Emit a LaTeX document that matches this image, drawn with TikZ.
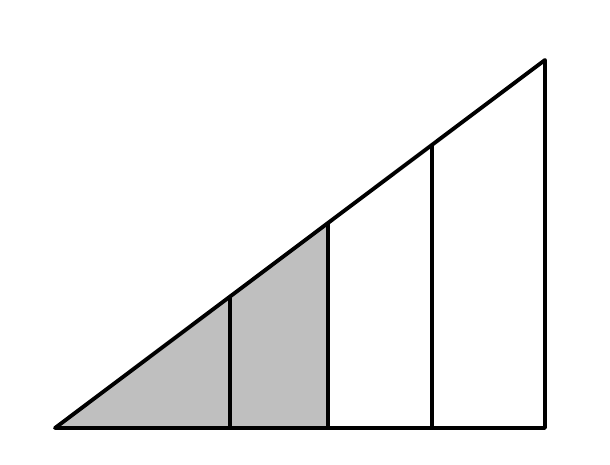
\documentclass[tikz,border=0pt]{standalone}
\usepackage{tikz}
\usetikzlibrary{calc}

\begin{document}
\begin{tikzpicture}[x=0.02cm, y=-0.02cm, line join=round, line cap=round]
\tikzset{edge/.style={draw, line width=2.2pt},shaded/.style={fill=black!25}}
\useasboundingbox (0,0) rectangle (610,465);
% corners of the triangle
\coordinate (A) at (55,428);
\coordinate (B) at (545,428);
\coordinate (C) at (545,60);
% division points on the base and on the slope
\coordinate (b1) at (230,428); \coordinate (t1) at ($(A)!{175/490}!(C)$);
\coordinate (b2) at (328,428); \coordinate (t2) at ($(A)!{273/490}!(C)$);
\coordinate (b3) at (432,428); \coordinate (t3) at ($(A)!{377/490}!(C)$);
\path[shaded] (A) -- (b2) -- (t2) -- cycle;
\draw[edge] (A) -- (B) -- (C) -- cycle;
\draw[edge] (b1) -- (t1); \draw[edge] (b2) -- (t2); \draw[edge] (b3) -- (t3);
\end{tikzpicture}
\end{document}
